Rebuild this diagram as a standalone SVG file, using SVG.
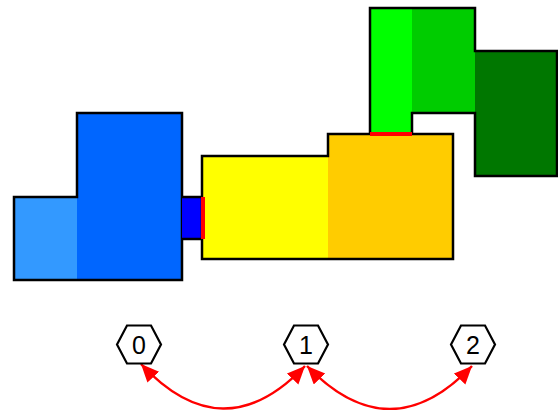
<svg xmlns="http://www.w3.org/2000/svg" width="558" height="410" viewBox="0 0 558 410">
<style>
.ol{fill:none;stroke:#000;stroke-width:2.5;stroke-linejoin:miter}
.joint{stroke:#ff0000;stroke-width:4;fill:none}
.hex{fill:#fff;stroke:#000;stroke-width:2.2}
.lbl{font-family:"Liberation Sans",Arial,sans-serif;font-size:25px;text-anchor:middle;fill:#000}
.arc{fill:none;stroke:#ff0000;stroke-width:2.5}
</style>
<defs>
<marker id="ah" markerUnits="userSpaceOnUse" markerWidth="20" markerHeight="18" refX="18" refY="8" orient="auto-start-reverse">
<path d="M0,0 L18,8 L0,16 z" fill="#ff0000"/>
</marker>
</defs>
<rect width="558" height="410" fill="#fff"/>
<g id="room-blue">
<rect x="14" y="197" width="63" height="83" fill="#3399ff"/>
<rect x="77" y="113" width="105" height="167" fill="#0066ff"/>
<polygon class="ol" points="14,197 77,197 77,113 182,113 182,280 14,280"/>
</g>
<g id="door-blue">
<rect x="182" y="197" width="21" height="42" fill="#0000ff"/>
<line class="ol" x1="182" y1="197" x2="203" y2="197"/>
<line class="ol" x1="182" y1="239" x2="203" y2="239"/>
</g>
<g id="room-yellow">
<rect x="202" y="156" width="126" height="103" fill="#ffff00"/>
<rect x="328" y="134" width="125" height="125" fill="#ffcc00"/>
<polygon class="ol" points="202,156 328,156 328,134 453,134 453,259 202,259"/>
</g>
<g id="room-green">
<rect x="370" y="8" width="42" height="126" fill="#00ff00"/>
<rect x="412" y="8" width="63" height="105" fill="#00cc00"/>
<rect x="475" y="51" width="82" height="125" fill="#007700"/>
<polyline class="ol" points="370,134 370,8 475,8 475,51 557,51 557,176 475,176 475,113 412,113 412,134"/>
</g>
<g id="joints">
<line class="joint" x1="203" y1="197" x2="203" y2="239"/>
<line class="joint" x1="370" y1="134" x2="412" y2="134"/>
</g>
<g id="connectors">
<path class="arc" d="M141,364 Q223,452 305,366" marker-start="url(#ah)" marker-end="url(#ah)"/>
<path class="arc" d="M307,366 Q390,452 472,366" marker-start="url(#ah)" marker-end="url(#ah)"/>
</g>
<g id="node-0">
<polygon class="hex" points="117,344.5 127,325.5 151,325.5 161,344.5 151,363.5 127,363.5"/>
<text class="lbl" x="139" y="353.5">0</text>
</g>
<g id="node-1">
<polygon class="hex" points="284,344.5 294,325.5 318,325.5 328,344.5 318,363.5 294,363.5"/>
<text class="lbl" x="306" y="353.5">1</text>
</g>
<g id="node-2">
<polygon class="hex" points="451,344.5 461,325.5 485,325.5 495,344.5 485,363.5 461,363.5"/>
<text class="lbl" x="473" y="353.5">2</text>
</g>
</svg>
